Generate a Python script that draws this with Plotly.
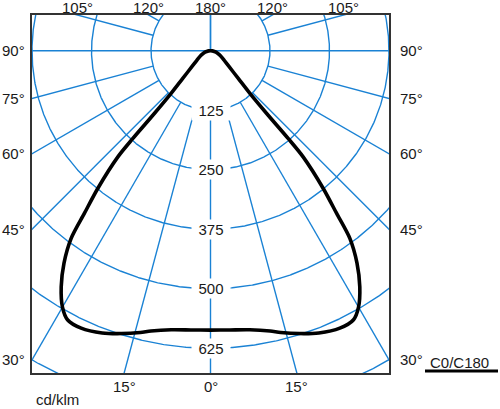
import numpy as np
import plotly.graph_objects as go

# ---- data (cd/klm vs. angle from nadir, C0/C180 symmetric) ----
curve_angles = [0, 4, 8, 12, 14, 17.5, 21, 25, 28, 30, 32.3, 34.6, 36.6, 37.8,
                39.3, 41.1, 41.5, 41.8, 42.7, 45, 50, 55, 60, 65, 75, 85, 90]
curve_c0_c180 = [587, 588, 592, 602, 610, 623, 635, 643, 640, 622, 587, 542, 491, 432,
                 374, 296, 246, 177, 122, 83, 49, 35, 27, 21, 12, 4, 0]

ring_values = [125, 250, 375, 500, 625, 750]
ring_labels = ["125", "250", "375", "500", "625"]
radial_angles = list(range(-180, 181, 15))
side_label_angles = [90, 75, 60, 45, 30]
top_label_angles = [105, 120, 180]
bottom_label_angles = [15, 0]
unit_label = "cd/klm"
legend_label = "C0/C180"

# ---- layout constants ----
X_HALF, Y_TOP, Y_BOT = 375, 75, -677
BLUE = "#1a82d4"
FONT = dict(family="Liberation Sans, Arial, sans-serif", size=15, color="#1a1a1a")


def px_(x):
    return (x + X_HALF) / (2 * X_HALF)


def py_(y):
    return (y - Y_BOT) / (Y_TOP - Y_BOT)


fig = go.Figure()

# rings
rx, ry = [], []
t = np.radians(np.linspace(0, 360, 1441))
for r in ring_values:
    rx += list(r * np.sin(t)) + [None]
    ry += list(-r * np.cos(t)) + [None]
fig.add_trace(go.Scatter(x=rx, y=ry, mode="lines", line=dict(color=BLUE, width=1.4),
                         hoverinfo="skip", showlegend=False))

# radial lines
lx, ly = [], []
for a in radial_angles:
    start = 0 if abs(a) in (90, 180) else ring_values[0]
    th = np.radians(a)
    lx += [start * np.sin(th), 1200 * np.sin(th), None]
    ly += [-start * np.cos(th), -1200 * np.cos(th), None]
fig.add_trace(go.Scatter(x=lx, y=ly, mode="lines", line=dict(color=BLUE, width=1.4),
                         hoverinfo="skip", showlegend=False))

# intensity curve (C180 on left, C0 on right)
ang = np.radians(np.array(curve_angles, dtype=float))
val = np.array(curve_c0_c180, dtype=float)
cx = list(-val[::-1] * np.sin(ang[::-1])) + list(val[1:] * np.sin(ang[1:]))
cy = list(-val[::-1] * np.cos(ang[::-1])) + list(-val[1:] * np.cos(ang[1:]))
fig.add_trace(go.Scatter(x=cx, y=cy, mode="lines", name=legend_label,
                         line=dict(color="black", width=3.6, shape="spline", smoothing=0.8),
                         hoverinfo="skip", showlegend=False))

ann = []
for r, lab in zip(ring_values, ring_labels):
    ann.append(dict(x=0, y=-r, text=lab, showarrow=False, font=FONT, bgcolor="white",
                    width=36, borderpad=1, xanchor="center", yanchor="middle"))
for a in side_label_angles:
    yy = 0 if a == 90 else -X_HALF / np.tan(np.radians(a))
    ann.append(dict(x=px_(-443), y=py_(yy), xref="paper", yref="paper", text=f"{a}°",
                    showarrow=False, font=FONT, xanchor="left", yanchor="middle"))
    ann.append(dict(x=px_(393), y=py_(yy), xref="paper", yref="paper", text=f"{a}°",
                    showarrow=False, font=FONT, xanchor="left", yanchor="middle"))
for a in top_label_angles:
    xx = 0 if a == 180 else Y_TOP / np.tan(np.radians(a - 90))
    for sgn in ([1] if a == 180 else [-1, 1]):
        ann.append(dict(x=px_(sgn * xx), y=py_(91.5), xref="paper", yref="paper",
                        text=f"{a}°", showarrow=False, font=FONT,
                        xanchor="center", yanchor="middle"))
for a in bottom_label_angles:
    xx = -Y_BOT * np.tan(np.radians(a))
    for sgn in ([1] if a == 0 else [-1, 1]):
        ann.append(dict(x=px_(sgn * xx), y=py_(-706), xref="paper", yref="paper",
                        text=f"{a}°", showarrow=False, font=FONT,
                        xanchor="center", yanchor="middle"))
ann.append(dict(x=px_(-371), y=py_(-733), xref="paper", yref="paper", text=unit_label,
                showarrow=False, font=FONT, xanchor="left", yanchor="middle"))
ann.append(dict(x=px_(457), y=py_(-655), xref="paper", yref="paper", text=legend_label,
                showarrow=False, font=FONT, xanchor="left", yanchor="middle"))

fig.update_layout(
    width=500, height=409,
    margin=dict(l=32, r=111, t=15, b=36),
    paper_bgcolor="white", plot_bgcolor="white",
    annotations=ann,
    shapes=[dict(type="line", xref="paper", yref="paper",
                 x0=(425 - 32) / 357, x1=(498 - 32) / 357,
                 y0=(373 - 371) / 358, y1=(373 - 371) / 358,
                 line=dict(color="black", width=3))],
    xaxis=dict(range=[-X_HALF, X_HALF], showgrid=False, zeroline=False,
               showticklabels=False, ticks="", showline=True, mirror=True,
               linecolor="#333", linewidth=1.5, fixedrange=True),
    yaxis=dict(range=[Y_BOT, Y_TOP], showgrid=False, zeroline=False,
               showticklabels=False, ticks="", showline=True, mirror=True,
               linecolor="#333", linewidth=1.5, fixedrange=True),
)

fig.write_html("out.html", config={"displayModeBar": False},
               post_script="document.body.style.margin='0px';")
